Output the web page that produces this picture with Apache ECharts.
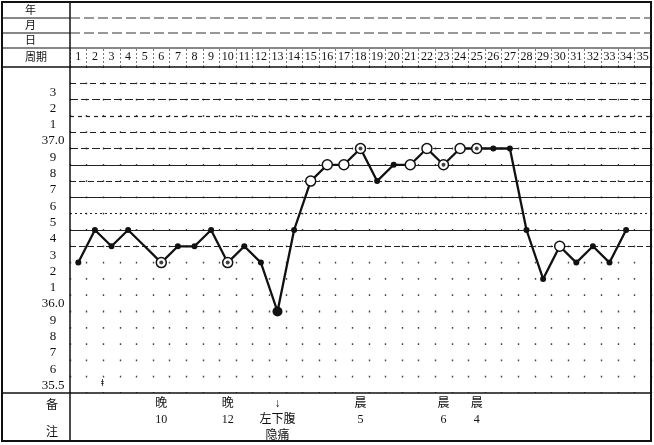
<!DOCTYPE html>
<html><head><meta charset="utf-8">
<script src="https://cdn.jsdelivr.net/npm/echarts@6/dist/echarts.min.js"></script>
<style>html,body{margin:0;padding:0;background:#fff}#c{width:654px;height:445px}</style>
</head><body><div id="c"></div>
<script>
const days = ['1','2','3','4','5','6','7','8','9','10','11','12','13','14','15','16','17','18','19','20','21','22','23','24','25','26','27','28','29','30','31','32','33','34','35'];
const temps = [36.3,36.5,36.4,36.5,36.4,36.3,36.4,36.4,36.5,36.3,36.4,36.3,36.0,36.5,36.8,36.9,36.9,37.0,36.8,36.9,36.9,37.0,36.9,37.0,37.0,37.0,37.0,36.5,36.2,36.4,36.3,36.4,36.3,36.5,null];
// marker kind per day: dot = filled, open = hollow circle, circdot = circle with dot, big = large filled, none
const marks = ['dot','dot','dot','dot','none','circdot','dot','dot','dot','circdot','dot','dot','big','dot','open','open','open','circdot','dot','dot','open','open','circdot','open','circdot','dot','dot','dot','dot','open','dot','dot','dot','dot','none'];
// y tick labels from 35.5 upward in 0.1 steps
const yLabels = ['35.5','6','7','8','9','36.0','1','2','3','4','5','6','7','8','9','37.0','1','2','3','',''];
const notes = ['','','','','','晚\n10','','','','晚\n12','','','↓\n左下腹\n隐痛','','','','','晨\n5','','','','','晨\n6','','晨\n4','','','','','','','','','',''];
const rowLabels = ['年','月','日','周期'];
const noteLabels = ['备','注'];

const ink = '#111';
const serif = '"Liberation Serif","DejaVu Serif","Noto Sans CJK SC",serif';
const cjk = '"Noto Sans CJK SC",sans-serif';

const chart = echarts.init(document.getElementById('c'), null, {renderer:'canvas'});

function symFor(k){
  if(k==='none') return {symbol:'none'};
  if(k==='dot') return {symbol:'circle', symbolSize:6, itemStyle:{color:ink, borderWidth:0}};
  if(k==='big') return {symbol:'circle', symbolSize:10, itemStyle:{color:ink, borderWidth:0}};
  return {symbol:'circle', symbolSize:10, itemStyle:{color:'#fff', borderColor:ink, borderWidth:1.5}};
}
const lineData = temps.map((v,i)=>Object.assign({value:v}, symFor(marks[i])));
const dotData = temps.map((v,i)=> marks[i]==='circdot' ? v : null);

const hLineVals = [36.4,36.5,36.6,36.7,36.8,36.9,37.0,37.1,37.2,37.3,37.4];
const hLineTypes = [[6,3],'solid',[2,3],'solid',[6,3],'solid',[8,3],[6,4],[4,4],[8,3],[6,4]];

const rowY = [10,25,40,57];
const graphics = [
  {type:'rect', shape:{x:2,y:2,width:649,height:439}, style:{fill:'none', stroke:ink, lineWidth:2}, z:100},
  {type:'line', shape:{x1:70,y1:2,x2:70,y2:441}, style:{stroke:ink, lineWidth:1.5}, z:100},
  {type:'line', shape:{x1:2,y1:67,x2:651,y2:67}, style:{stroke:ink, lineWidth:1.5}, z:100},
  {type:'line', shape:{x1:2,y1:393,x2:651,y2:393}, style:{stroke:ink, lineWidth:1.5}, z:100},
  {type:'line', shape:{x1:2,y1:18,x2:70,y2:18}, style:{stroke:ink, lineWidth:1.2}, z:100},
  {type:'line', shape:{x1:2,y1:33,x2:70,y2:33}, style:{stroke:ink, lineWidth:1.2}, z:100},
  {type:'line', shape:{x1:2,y1:48,x2:70,y2:48}, style:{stroke:ink, lineWidth:1.2}, z:100},
  {type:'line', shape:{x1:70,y1:18,x2:651,y2:18}, style:{stroke:'#333', lineWidth:1.1, lineDash:[10,4]}, z:100},
  {type:'line', shape:{x1:70,y1:33,x2:651,y2:33}, style:{stroke:'#333', lineWidth:1.1, lineDash:[10,4]}, z:100},
  {type:'line', shape:{x1:70,y1:48,x2:651,y2:48}, style:{stroke:ink, lineWidth:1.2}, z:100},
  {type:'text', left:101, top:378, style:{text:'ǂ', font:'bold 10px '+serif, fill:ink}, z:100}
];
rowLabels.forEach((t,i)=>graphics.push({type:'text', x:25, y:rowY[i], style:{text:t, font:'11px '+cjk, fill:ink, textVerticalAlign:'middle'}, z:100}));
noteLabels.forEach((t,i)=>graphics.push({type:'text', x:52, y:[404,431][i], style:{text:t, font:'12px '+cjk, fill:ink, textAlign:'center', textVerticalAlign:'middle'}, z:100}));

chart.setOption({
  animation:false,
  backgroundColor:'#fff',
  grid:{left:70, right:3, top:67, bottom:52, containLabel:false},
  xAxis:[
    {type:'category', position:'top', data:days, boundaryGap:true,
     axisLine:{show:false},
     axisTick:{show:true, length:19, interval:0, lineStyle:{color:'#777', type:[2,2], width:1}},
     axisLabel:{interval:0, margin:4, color:ink, fontSize:12, fontFamily:serif},
     splitLine:{show:true, interval:0, lineStyle:{color:'#444', width:1.4, type:[1.8,14.5], dashOffset:0.9}}
    },
    {type:'category', position:'bottom', data:notes, boundaryGap:true,
     axisLine:{show:false}, axisTick:{show:false},
     axisLabel:{interval:0, margin:3, color:ink, fontSize:12, lineHeight:16, fontFamily:serif}
    }
  ],
  yAxis:{type:'value', min:35.5, max:37.5, interval:0.1,
    axisLine:{show:false}, axisTick:{show:false}, splitLine:{show:false},
    axisLabel:{margin:17, align:'center', verticalAlign:'bottom', padding:[0,0,1,0], color:ink, fontSize:13, fontFamily:serif,
      formatter:v=>yLabels[Math.round((v-35.5)*10)] || ''}
  },
  series:[
    {type:'line', xAxisIndex:0, data:lineData, showAllSymbol:true, connectNulls:false,
     lineStyle:{color:ink, width:2.3}, itemStyle:{color:ink}, z:5,
     markLine:{silent:true, symbol:'none', label:{show:false}, animation:false,
       data:hLineVals.map((v,i)=>({yAxis:v, lineStyle:{color:'#222', width:1.2, type:hLineTypes[i]}}))}
    },
    {type:'scatter', xAxisIndex:0, data:dotData, symbol:'circle', symbolSize:4, itemStyle:{color:ink}, z:6}
  ],
  graphic:graphics
});
</script></body></html>
